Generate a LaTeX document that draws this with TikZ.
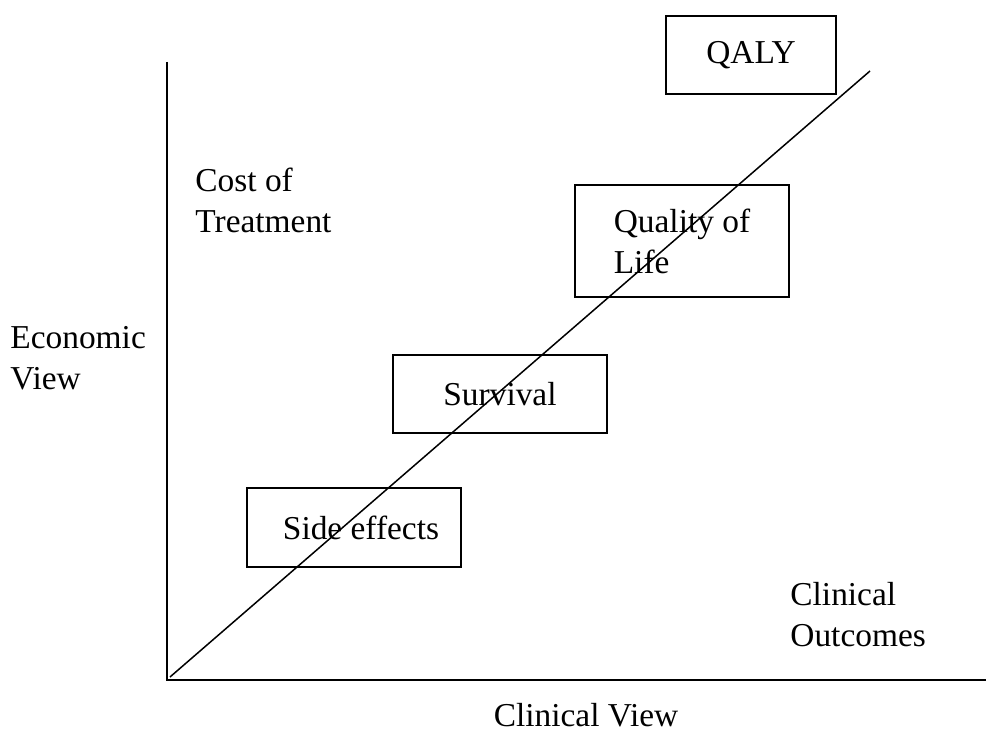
\documentclass[tikz,border=0pt]{standalone}
\usepackage{fontspec}
\setmainfont{Liberation Serif}
\begin{document}
\begin{tikzpicture}[x=0.5pt,y=-0.5pt,
  box/.style={draw,line width=1pt,inner sep=0pt,minimum width=#1},
  lbl/.style={inner sep=0pt,align=left,anchor=west,font=\fontsize{16.7}{20.5}\selectfont},
  axis/.style={line width=1pt},
  diag/.style={line width=0.75pt}]
\useasboundingbox (0,0) rectangle (987,732);
\tikzset{every node/.append style={font=\fontsize{16.7}{20.5}\selectfont}}
% axes
\coordinate (ytop) at (167,62);
\coordinate (orig) at (167,680);
\coordinate (xend) at (986,680);
\draw[axis] (ytop) -- (orig) -- (xend);
% boxes
\node[box=170pt/2, minimum height=78pt/2] (qaly) at (751,55) {QALY};
\node[box=214pt/2, minimum height=112pt/2, align=left] (qol) at (682,241) {Quality of\\Life};
\node[box=214pt/2, minimum height=78pt/2] (surv) at (500,394) {Survival};
\node[box=214pt/2, minimum height=79pt/2] (side) at (354,528) {\hspace{7pt}Side effects};
% diagonal
\coordinate (d0) at (170,677);
\coordinate (d1) at (870,71);
\draw[diag] (d0) -- (d1);
% labels
\node[lbl] (cost) at (195,200) {Cost of\\Treatment};
\node[lbl] (econ) at (10,358) {Economic\\View};
\node[lbl] (clout) at (790,615) {Clinical\\Outcomes};
\node[inner sep=0pt] (clview) at (586,715) {Clinical View};
\end{tikzpicture}
\end{document}
